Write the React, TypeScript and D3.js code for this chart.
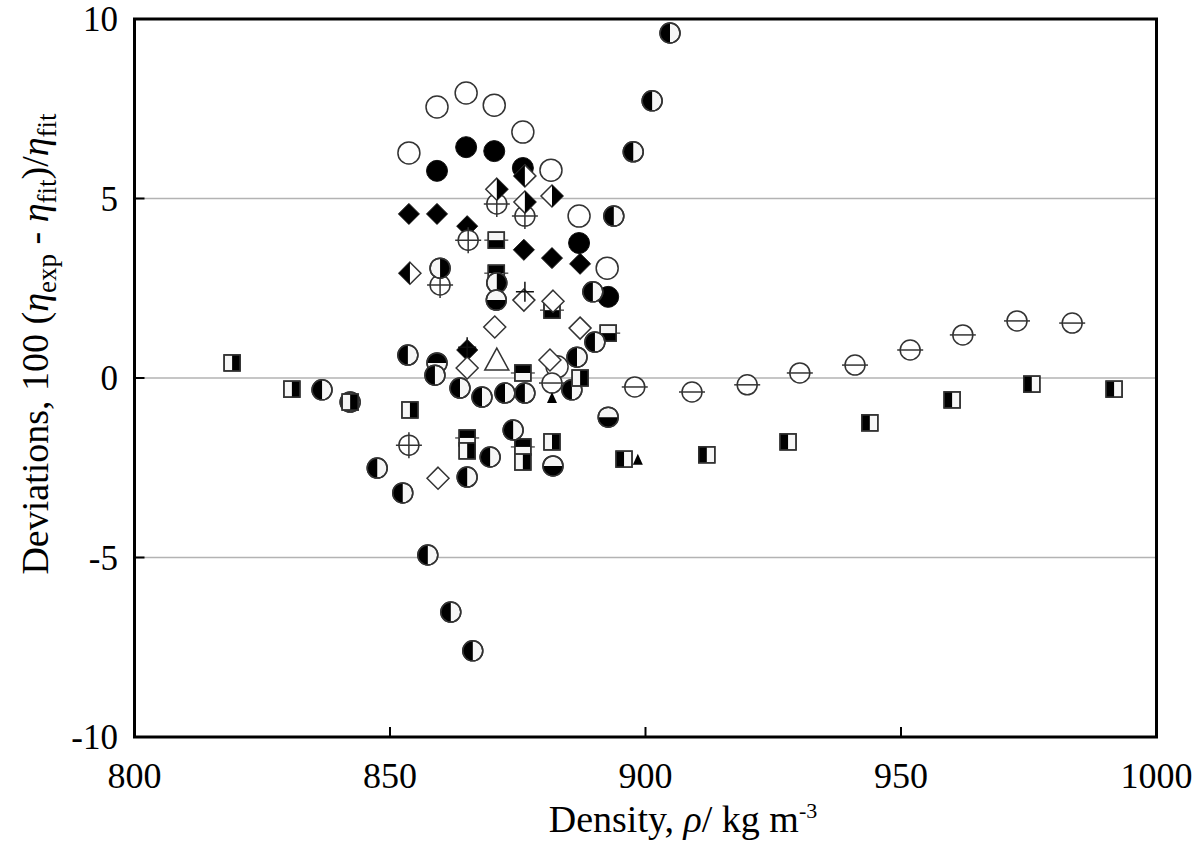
import React from "react";
import * as d3 from "d3";

// ---- data (density kg/m3, deviation %) ----
const openCircleX = [853.7, 859.2, 864.9, 870.4, 876.0, 881.5, 887.0, 892.5, 882.7];
const openCircleY = [6.27, 7.55, 7.94, 7.60, 6.85, 5.79, 4.51, 3.06, 0.31];

const filledCircleX = [859.2, 864.9, 870.4, 876.0, 887.0, 892.7];
const filledCircleY = [5.77, 6.43, 6.32, 5.85, 3.76, 2.26];

const filledDiamondX = [853.7, 859.2, 865.1, 876.2, 881.7, 887.2, 865.1];
const filledDiamondY = [4.57, 4.57, 4.23, 3.57, 3.34, 3.18, 0.78];

const halfDiamondRX = [870.9, 876.4, 881.7];
const halfDiamondRY = [5.26, 4.90, 5.07];
const halfDiamondLX = [876.4, 853.9];
const halfDiamondLY = [5.63, 2.92];

const crossCircleX = [865.3, 870.9, 876.4, 859.8, 853.7];
const crossCircleY = [3.84, 4.85, 4.51, 2.59, -1.87];

const thetaX = [881.7, 897.9, 909.1, 919.9, 930.2, 941.0, 951.8, 962.1, 972.7, 983.5];
const thetaY = [-0.14, -0.25, -0.39, -0.19, 0.14, 0.36, 0.78, 1.20, 1.59, 1.53];

const sqLeftBlackX = [895.8, 912.0, 927.9, 943.9, 960.0, 975.6, 991.7];
const sqLeftBlackY = [-2.26, -2.14, -1.78, -1.25, -0.61, -0.17, -0.31];

const sqRightBlackX = [819.1, 830.8, 842.2, 853.9, 865.1, 876.0, 881.7, 887.2];
const sqRightBlackY = [0.42, -0.31, -0.67, -0.89, -2.03, -2.34, -1.78, 0.0];

const sqTopBlackX = [870.8, 876.0, 865.1, 876.0];
const sqTopBlackY = [2.92, 0.14, -1.67, -1.92];

const sqBottomBlackX = [870.8, 881.7, 892.7];
const sqBottomBlackY = [3.84, 1.89, 1.25];

const halfCircleLX = [904.8, 901.3, 897.6, 893.8, 889.7, 890.1, 886.6, 885.6, 876.4, 872.5, 868.0, 863.7, 858.8, 853.5, 874.1, 869.6, 865.1, 852.5, 847.5, 836.7, 842.2, 857.4, 861.9, 866.2];
const halfCircleLY = [9.61, 7.72, 6.30, 4.51, 2.40, 1.00, 0.58, -0.33, -0.42, -0.42, -0.53, -0.28, 0.08, 0.64, -1.45, -2.20, -2.76, -3.20, -2.51, -0.33, -0.67, -4.93, -6.52, -7.60];

const halfCircleRX = [859.8, 870.9];
const halfCircleRY = [3.06, 2.65];

const halfCircleTopX = [859.2];
const halfCircleTopY = [0.42];

const halfCircleBottomX = [892.7, 881.9, 870.8];
const halfCircleBottomY = [-1.09, -2.45, 2.17];

const openDiamondX = [870.5, 876.2, 881.9, 887.2, 859.4, 881.3, 865.1];
const openDiamondY = [1.42, 2.17, 2.14, 1.39, -2.79, 0.50, 0.28];

const openTriangleX = [870.9];
const openTriangleY = [0.50];

const smallTriangleX = [898.5, 881.7];
const smallTriangleY = [-2.28, -0.56];

const plusX = [876.4, 865.1];
const plusY = [2.40, 0.86];

const xTicks = [800, 850, 900, 950, 1000];
const yTicks = [-10, -5, 0, 5, 10];
const gridValues = [-5, 0, 5];

type Series = { type: string; xs: number[]; ys: number[] };
const series: Series[] = [
  { type: "sqBottomBlack", xs: sqBottomBlackX, ys: sqBottomBlackY },
  { type: "sqTopBlack", xs: sqTopBlackX, ys: sqTopBlackY },
  { type: "openCircle", xs: openCircleX, ys: openCircleY },
  { type: "filledCircle", xs: filledCircleX, ys: filledCircleY },
  { type: "filledDiamond", xs: filledDiamondX, ys: filledDiamondY },
  { type: "crossCircle", xs: crossCircleX, ys: crossCircleY },
  { type: "halfDiamondR", xs: halfDiamondRX, ys: halfDiamondRY },
  { type: "halfDiamondL", xs: halfDiamondLX, ys: halfDiamondLY },
  { type: "openDiamond", xs: openDiamondX, ys: openDiamondY },
  { type: "halfCircleR", xs: halfCircleRX, ys: halfCircleRY },
  { type: "halfCircleTop", xs: halfCircleTopX, ys: halfCircleTopY },
  { type: "halfCircleBottom", xs: halfCircleBottomX, ys: halfCircleBottomY },
  { type: "openTriangle", xs: openTriangleX, ys: openTriangleY },
  { type: "halfCircleL", xs: halfCircleLX, ys: halfCircleLY },
  { type: "theta", xs: thetaX, ys: thetaY },
  { type: "sqLeftBlack", xs: sqLeftBlackX, ys: sqLeftBlackY },
  { type: "sqRightBlack", xs: sqRightBlackX, ys: sqRightBlackY },
  { type: "smallTriangle", xs: smallTriangleX, ys: smallTriangleY },
  { type: "plus", xs: plusX, ys: plusY },
];

const W = 1204;
const H = 845;
const M = { left: 134.5, right: 1156.5, top: 19, bottom: 737 };

const STROKE = "#333";

function Marker({ type }: { type: string }) {
  const sw = 1.5;
  switch (type) {
    case "openCircle":
      return <circle r={11} fill="white" stroke={STROKE} strokeWidth={sw} />;
    case "filledCircle":
      return <circle r={10.5} fill="black" stroke="#111" strokeWidth={1} />;
    case "filledDiamond":
      return <path d="M0,-10.5L10.5,0L0,10.5L-10.5,0Z" fill="black" stroke="#111" strokeWidth={1} />;
    case "openDiamond":
      return <path d="M0,-11L11,0L0,11L-11,0Z" fill="white" stroke={STROKE} strokeWidth={sw} />;
    case "halfDiamondR":
      return (
        <g>
          <path d="M0,-11L11,0L0,11L-11,0Z" fill="white" stroke={STROKE} strokeWidth={sw} />
          <path d="M0,-11L11,0L0,11Z" fill="black" />
        </g>
      );
    case "halfDiamondL":
      return (
        <g>
          <path d="M0,-11L11,0L0,11L-11,0Z" fill="white" stroke={STROKE} strokeWidth={sw} />
          <path d="M0,-11L-11,0L0,11Z" fill="black" />
        </g>
      );
    case "crossCircle":
      return (
        <g>
          <circle r={10} fill="white" stroke={STROKE} strokeWidth={sw} />
          <path d="M-13,0H13M0,-13V13" stroke={STROKE} strokeWidth={sw} />
        </g>
      );
    case "theta":
      return (
        <g>
          <circle r={10} fill="white" stroke={STROKE} strokeWidth={sw} />
          <path d="M-13,0H13" stroke={STROKE} strokeWidth={sw} />
        </g>
      );
    case "halfCircleL":
    case "halfCircleR":
    case "halfCircleTop":
    case "halfCircleBottom": {
      const r = 10;
      const d =
        type === "halfCircleL"
          ? `M0,${-r}A${r},${r} 0 0 0 0,${r}Z`
          : type === "halfCircleR"
          ? `M0,${-r}A${r},${r} 0 0 1 0,${r}Z`
          : type === "halfCircleTop"
          ? `M${-r},0A${r},${r} 0 0 1 ${r},0Z`
          : `M${-r},0A${r},${r} 0 0 0 ${r},0Z`;
      return (
        <g>
          <circle r={r} fill="#f6f6f6" stroke={STROKE} strokeWidth={sw} />
          <path d={d} fill="black" />
          <circle r={r} fill="none" stroke={STROKE} strokeWidth={sw} />
        </g>
      );
    }
    case "sqLeftBlack":
    case "sqRightBlack":
    case "sqTopBlack":
    case "sqBottomBlack": {
      const s = 8;
      let half = "";
      if (type === "sqLeftBlack") half = `M${-s},${-s}H0V${s}H${-s}Z`;
      else if (type === "sqRightBlack") half = `M0,${-s}H${s}V${s}H0Z`;
      else if (type === "sqTopBlack") half = `M${-s},${-s}H${s}V0H${-s}Z`;
      else half = `M${-s},0H${s}V${s}H${-s}Z`;
      const bar = type === "sqTopBlack" || type === "sqBottomBlack";
      return (
        <g>
          {bar && <path d={`M-12,0H12`} stroke={STROKE} strokeWidth={1.2} />}
          <rect x={-s} y={-s} width={2 * s} height={2 * s} fill="#f6f6f6" stroke={STROKE} strokeWidth={sw} />
          <path d={half} fill="black" />
          <rect x={-s} y={-s} width={2 * s} height={2 * s} fill="none" stroke={STROKE} strokeWidth={sw} />
        </g>
      );
    }
    case "openTriangle":
      return <path d="M0,-12L12,10L-12,10Z" fill="white" stroke={STROKE} strokeWidth={sw} />;
    case "smallTriangle":
      return <path d="M0,-6L5,5L-5,5Z" fill="black" />;
    case "plus":
      return <path d="M-9,0H9M0,-10V10" stroke="#111" strokeWidth={1.5} />;
    default:
      return null;
  }
}

export default function App() {
  const x = d3.scaleLinear().domain([800, 1000]).range([M.left, M.right]);
  const y = d3.scaleLinear().domain([-10, 10]).range([M.bottom, M.top]);
  const font = "'Liberation Serif', 'Times New Roman', serif";

  return (
    <svg
      width={W}
      height={H}
      style={{ display: "block", position: "absolute", left: 0, top: 0 }}
      fontFamily={font}
    >
      {/* grid */}
      {gridValues.map((g) => (
        <line key={g} x1={M.left} x2={M.right} y1={y(g)} y2={y(g)} stroke="#b3b3b3" strokeWidth={1.5} />
      ))}
      {/* markers */}
      {series.map((s, si) =>
        s.xs.map((xv, i) => (
          <g key={`${si}-${i}`} transform={`translate(${x(xv)},${y(s.ys[i])})`}>
            <Marker type={s.type} />
          </g>
        ))
      )}
      {/* ticks */}
      {xTicks.slice(1, -1).map((t) => (
        <line key={`xt${t}`} x1={x(t)} x2={x(t)} y1={M.bottom} y2={M.bottom - 10} stroke="black" strokeWidth={2} />
      ))}
      {yTicks.slice(1, -1).map((t) => (
        <line key={`yt${t}`} x1={M.left} x2={M.left + 10} y1={y(t)} y2={y(t)} stroke="black" strokeWidth={2} />
      ))}
      {/* frame */}
      <rect x={M.left} y={M.top} width={M.right - M.left} height={M.bottom - M.top} fill="none" stroke="black" strokeWidth={3} />
      {/* tick labels */}
      {xTicks.map((t) => (
        <text key={`xl${t}`} x={x(t)} y={788} textAnchor="middle" fontSize={36}>
          {t}
        </text>
      ))}
      {yTicks.map((t) => (
        <text key={`yl${t}`} x={118} y={y(t) + 12} textAnchor="end" fontSize={35}>
          {t}
        </text>
      ))}
      {/* x title */}
      <text x={683} y={832} textAnchor="middle" fontSize={38}>
        Density, <tspan fontStyle="italic">ρ</tspan>/ kg m
        <tspan fontSize={22} dy={-14}>-3</tspan>
      </text>
      {/* y title */}
      <text transform={`translate(48,344) rotate(-90)`} textAnchor="middle" fontSize={38}>
        Deviations, 100 (<tspan fontStyle="italic">η</tspan>
        <tspan fontSize={27} dy={8}>exp</tspan>
        <tspan dy={-8}> - </tspan>
        <tspan fontStyle="italic">η</tspan>
        <tspan fontSize={27} dy={8}>fit</tspan>
        <tspan dy={-8}>)/</tspan>
        <tspan fontStyle="italic">η</tspan>
        <tspan fontSize={27} dy={8}>fit</tspan>
      </text>
    </svg>
  );
}
